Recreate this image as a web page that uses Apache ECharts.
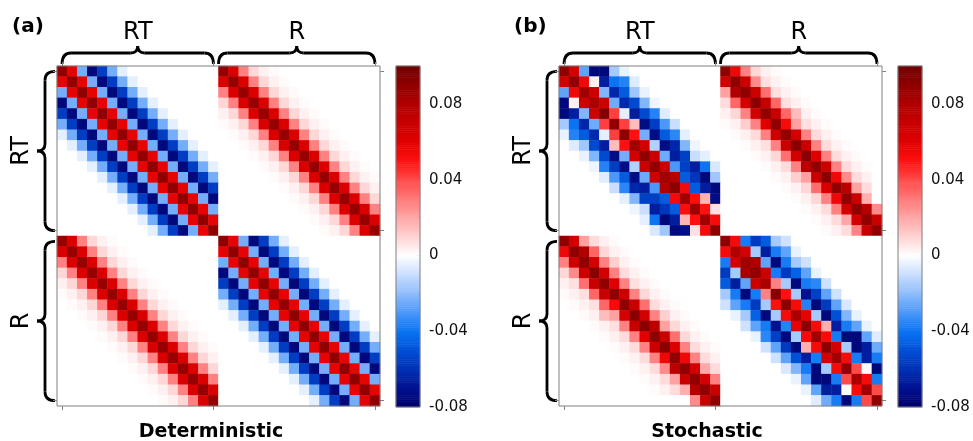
<!DOCTYPE html>
<html lang="en">
<head>
<meta charset="UTF-8">
<title>Covariance RT / R</title>
<style>
  html, body, #main { margin: 0; padding: 0; width: 973px; height: 441px; background: #fff; overflow: hidden; }
</style>
</head>
<body>
<div id="main"></div>
<script src="https://cdn.jsdelivr.net/npm/echarts@6/dist/echarts.min.js"></script>
<script>
// groups on both axes, 16 cells each
const groups = ['RT', 'R'];
const cellsPerGroup = 16;
const panelTags = ['(a)', '(b)'];
const panelTitles = ['Deterministic', 'Stochastic'];

// colour bar: one colour every 0.01 from -0.08 to 0.1
const cbarMin = -0.08;
const cbarMax = 0.1;
const cbarColors = [
  '#000068', '#001290', '#0030b4', '#0050d6', '#0a74f2', '#4c98fa', '#8fbdfc', '#c9deff',
  '#ffffff',
  '#ffd2d2', '#ffa6a6', '#ff7878', '#ff4a4a', '#ff1010', '#e00000', '#c80000', '#b00000', '#900000', '#700000'
];
const cbarLabels = [-0.08, -0.04, 0, 0.04, 0.08];
const cbarTicks = [-0.06, -0.04, -0.02, 0, 0.02, 0.04, 0.06, 0.08];
const cbarSteps = 180;

// (a) deterministic: value by distance from the diagonal
const detSameBand = [0.090, 0.058, -0.024, -0.075, -0.056, -0.024, -0.005];
const detCrossBand = [0.088, 0.062, 0.028, 0.009, 0.003, 0.001];

// (b) stochastic, RT x RT, row i, distance 0..7 (symmetric)
const stoRTRT = [
  [0.090, 0.065, -0.027, -0.075, -0.075, -0.016, -0.004, 0],
  [0.090, 0.055, 0.003, -0.066, -0.040, -0.036, -0.006, 0],
  [0.085, 0.068, -0.022, -0.063, -0.047, -0.017, -0.004, 0],
  [0.082, 0.068, -0.025, -0.062, -0.052, -0.022, -0.003, 0],
  [0.094, 0.042, -0.005, -0.066, -0.052, -0.036, -0.006, 0],
  [0.090, 0.042, 0.015, -0.073, -0.056, -0.030, -0.010, 0],
  [0.090, 0.050, -0.024, -0.073, -0.047, -0.035, -0.005, 0],
  [0.085, 0.066, -0.014, -0.073, -0.063, -0.022, -0.003, 0],
  [0.090, 0.068, -0.025, -0.066, -0.055, -0.010, -0.005, 0],
  [0.090, 0.068, -0.030, -0.055, -0.066, -0.040, -0.007],
  [0.085, 0.078, -0.047, -0.058, -0.075, -0.017],
  [0.092, 0.054, -0.047, -0.066, -0.075],
  [0.085, 0.052, 0.017, -0.073],
  [0.085, 0.050, 0.007],
  [0.085, 0.053],
  [0.090]
];

// (b) stochastic, R x R
const stoRR = [
  [0.090, 0.053, -0.038, -0.057, -0.047, -0.016, -0.009, 0],
  [0.080, 0.066, -0.016, -0.066, -0.038, -0.027, -0.004, 0],
  [0.085, 0.082, -0.027, -0.075, -0.038, -0.016, -0.009, 0],
  [0.090, 0.068, -0.038, -0.057, -0.045, -0.027, -0.004, 0],
  [0.082, 0.028, -0.016, -0.075, -0.038, -0.035, -0.009, 0],
  [0.092, 0.050, -0.016, -0.070, -0.055, -0.027, -0.009, 0],
  [0.092, 0.053, -0.036, -0.075, -0.057, -0.027, -0.007, 0],
  [0.082, 0.058, -0.016, -0.075, -0.050, -0.022, -0.004, 0],
  [0.092, 0.053, 0.018, -0.066, -0.038, -0.027, -0.004, 0],
  [0.085, 0.053, -0.038, -0.075, -0.075, -0.027, -0.006],
  [0.092, 0.066, -0.016, -0.075, -0.066, -0.025],
  [0.085, 0.053, -0.038, -0.066, -0.038],
  [0.090, 0.040, 0.001, -0.075],
  [0.082, 0.053, -0.038],
  [0.085, 0.040],
  [0.090]
];

// (b) stochastic, RT rows x R columns, column offset -5..+5 (R x RT is its transpose)
const stoCross = [
  [0, 0, 0, 0, 0, 0.090, 0.055, 0.028, 0.009, 0.003, 0.001],
  [0, 0, 0, 0, 0.066, 0.090, 0.068, 0.026, 0.007, 0.003, 0.001],
  [0, 0, 0, 0.021, 0.080, 0.090, 0.068, 0.032, 0.007, 0.003, 0.001],
  [0, 0, 0.008, 0.034, 0.066, 0.092, 0.070, 0.034, 0.007, 0.003, 0.001],
  [0, 0.003, 0.009, 0.028, 0.066, 0.090, 0.070, 0.034, 0.015, 0.003, 0.001],
  [0.001, 0.003, 0.011, 0.028, 0.060, 0.090, 0.053, 0.021, 0.007, 0.003, 0.001],
  [0.001, 0.003, 0.008, 0.028, 0.068, 0.090, 0.065, 0.028, 0.008, 0.003, 0.001],
  [0.001, 0.003, 0.007, 0.028, 0.070, 0.092, 0.070, 0.028, 0.008, 0.003, 0.001],
  [0.001, 0.003, 0.009, 0.032, 0.066, 0.092, 0.060, 0.028, 0.008, 0.003, 0.001],
  [0.001, 0.003, 0.008, 0.028, 0.075, 0.090, 0.068, 0.028, 0.008, 0.003, 0.001],
  [0.001, 0.003, 0.011, 0.021, 0.070, 0.092, 0.055, 0.026, 0.008, 0.003, 0],
  [0.001, 0.003, 0.009, 0.032, 0.062, 0.090, 0.076, 0.021, 0.008, 0, 0],
  [0.001, 0.003, 0.009, 0.028, 0.055, 0.090, 0.070, 0.018, 0, 0, 0],
  [0.001, 0.003, 0.008, 0.028, 0.066, 0.090, 0.078, 0.026, 0, 0, 0],
  [0.001, 0.003, 0.008, 0.020, 0.066, 0.090, 0.070, 0, 0, 0, 0],
  [0.001, 0.003, 0.008, 0.028, 0.070, 0.090, 0, 0, 0, 0, 0]
];

// block readers
const bandOf = kernel => (i, j) => kernel[Math.abs(i - j)] || 0;
const symOf = rows => (i, j) => rows[Math.min(i, j)][Math.abs(i - j)] || 0;
const crossOf = rows => (i, j) => rows[i][j - i + 5] || 0;

const panels = [
  { same: [bandOf(detSameBand), bandOf(detSameBand)], cross: bandOf(detCrossBand) },
  { same: [symOf(stoRTRT), symOf(stoRR)], cross: crossOf(stoCross) }
];

const n = groups.length * cellsPerGroup;
const cats = [];
for (let k = 0; k < n; k++) cats.push(String(k));

function cells(panel) {
  const out = [];
  for (let r = 0; r < n; r++) {
    for (let c = 0; c < n; c++) {
      const gr = Math.floor(r / cellsPerGroup), gc = Math.floor(c / cellsPerGroup);
      const i = r % cellsPerGroup, j = c % cellsPerGroup;
      let v;
      if (gr === gc) v = panel.same[gr](i, j);
      else if (gr === 0) v = panel.cross(i, j);
      else v = panel.cross(j, i);
      out.push([c, r, v]);
    }
  }
  return out;
}

// colour bar levels (bottom to top)
const levelCats = [], levelData = [];
for (let k = 0; k < cbarSteps; k++) {
  levelCats.push(String(k));
  levelData.push([0, k, cbarMin + (k + 0.5) * (cbarMax - cbarMin) / cbarSteps]);
}

// layout (px)
const mapLeft = [57, 559];
const mapTop = 66, mapW = 323, mapH = 340;
const barLeft = [396, 898];
const barW = 24, barH = 341;
const frame = '#808080';

const tickAt = idx => idx === 0 || idx === cellsPerGroup - 1 || idx === n - 1;
const gridBox = (left, width, height) => ({
  left: left, top: mapTop, width: width, height: height, show: true, borderColor: frame,
  borderWidth: 1, backgroundColor: 'transparent', z: 5, outerBoundsMode: 'none'
});

const grids = [], xAxes = [], yAxes = [], series = [];
panels.forEach((p, k) => {
  grids.push(gridBox(mapLeft[k], mapW, mapH));
  ['bottom', 'top'].forEach(pos => xAxes.push({
    gridIndex: k, type: 'category', data: cats, position: pos,
    axisLine: { show: false }, axisLabel: { show: false }, splitLine: { show: false },
    axisTick: { show: true, alignWithLabel: true, interval: tickAt, length: 4, lineStyle: { color: frame } }
  }));
  ['left', 'right'].forEach(pos => yAxes.push({
    gridIndex: k, type: 'category', data: cats, position: pos, inverse: true,
    axisLine: { show: false }, axisLabel: { show: false }, splitLine: { show: false },
    axisTick: { show: true, alignWithLabel: true, interval: tickAt, length: 4, lineStyle: { color: frame } }
  }));
  series.push({
    type: 'heatmap', xAxisIndex: 2 * k, yAxisIndex: 2 * k, data: cells(p),
    itemStyle: { borderWidth: 0 }, emphasis: { disabled: true }
  });
});

// colour bars: a one-column heatmap plus a value axis for the ticks
panels.forEach((p, k) => {
  const g = grids.length;
  grids.push(gridBox(barLeft[k], barW, barH));
  xAxes.push({ gridIndex: g, type: 'category', data: ['0'], show: false });
  const yCat = yAxes.length;
  yAxes.push({ gridIndex: g, type: 'category', data: levelCats, show: false });
  yAxes.push({
    gridIndex: g, type: 'value', min: cbarMin, max: cbarMax, position: 'right',
    axisLine: { show: false }, splitLine: { show: false },
    axisTick: { show: true, inside: true, length: 3, customValues: cbarTicks, lineStyle: { color: '#333' } },
    axisLabel: { show: true, margin: 9, customValues: cbarLabels, color: '#111',
      fontFamily: 'DejaVu Sans', fontSize: 15, formatter: v => String(v) }
  });
  series.push({
    type: 'heatmap', xAxisIndex: xAxes.length - 1, yAxisIndex: yCat, data: levelData,
    itemStyle: { borderWidth: 0 }, emphasis: { disabled: true }
  });
});

const chart = echarts.init(document.getElementById('main'), null, { renderer: 'canvas' });
chart.setOption({
  animation: false,
  grid: grids,
  xAxis: xAxes,
  yAxis: yAxes,
  visualMap: {
    type: 'continuous', show: false, seriesIndex: [0, 1, 2, 3],
    min: cbarMin, max: cbarMax, inRange: { color: cbarColors }
  },
  series: series
});

// curly braces from line and quadratic-curve pieces
function brace(a, b, tip, body, cusp, vertical) {
  const m = (a + b) / 2, r = 9, r2 = 7;
  const P = (u, v) => vertical ? [v, u] : [u, v];
  const style = { stroke: '#000', lineWidth: 2.8, fill: null };
  const curve = (s, c, e) => ({ type: 'bezierCurve', silent: true, style: style,
    shape: { x1: s[0], y1: s[1], cpx1: c[0], cpy1: c[1], x2: e[0], y2: e[1] } });
  const line = (s, e) => ({ type: 'line', silent: true, style: style,
    shape: { x1: s[0], y1: s[1], x2: e[0], y2: e[1] } });
  return [
    curve(P(a, tip), P(a, body), P(a + r, body)),
    line(P(a + r, body), P(m - r2, body)),
    curve(P(m - r2, body), P(m, body), P(m, cusp)),
    curve(P(m, cusp), P(m, body), P(m + r2, body)),
    line(P(m + r2, body), P(b - r, body)),
    curve(P(b - r, body), P(b, body), P(b, tip))
  ];
}

const titleX = [211, 707];
const graphics = [];
panels.forEach((p, k) => {
  const cx = idx => chart.convertToPixel({ xAxisIndex: 2 * k }, idx);
  const cy = idx => chart.convertToPixel({ yAxisIndex: 2 * k }, idx);
  const L = mapLeft[k];
  groups.forEach((name, g) => {
    const first = g * cellsPerGroup, last = first + cellsPerGroup - 1;
    // top brace
    const x1 = g === 0 ? cx(first) : (cx(first - 1) + cx(first)) / 2;
    const x2 = cx(last);
    graphics.push(...brace(x1, x2, mapTop - 2, mapTop - 13, mapTop - 20, false));
    graphics.push({ type: 'text', x: (x1 + x2) / 2, y: 33,
      style: { text: name, font: '24px "DejaVu Sans"', fill: '#000', align: 'center', verticalAlign: 'middle' } });
    // left brace
    const y1 = cy(first), y2 = cy(last);
    graphics.push(...brace(y1, y2, L - 2, L - 12, L - 20, true));
    graphics.push({ type: 'text', x: L - 35, y: (y1 + y2) / 2, rotation: Math.PI / 2,
      style: { text: name, font: '24px "DejaVu Sans"', fill: '#000', align: 'center', verticalAlign: 'middle' } });
  });
  graphics.push({ type: 'text', x: L - 45, y: 27,
    style: { text: panelTags[k], font: 'bold 20px "DejaVu Sans"', fill: '#000', align: 'left', verticalAlign: 'middle' } });
  graphics.push({ type: 'text', x: titleX[k], y: 432,
    style: { text: panelTitles[k], font: 'bold 19px "DejaVu Sans"', fill: '#000', align: 'center', verticalAlign: 'middle' } });
});
chart.setOption({ graphic: graphics });
</script>
</body>
</html>
